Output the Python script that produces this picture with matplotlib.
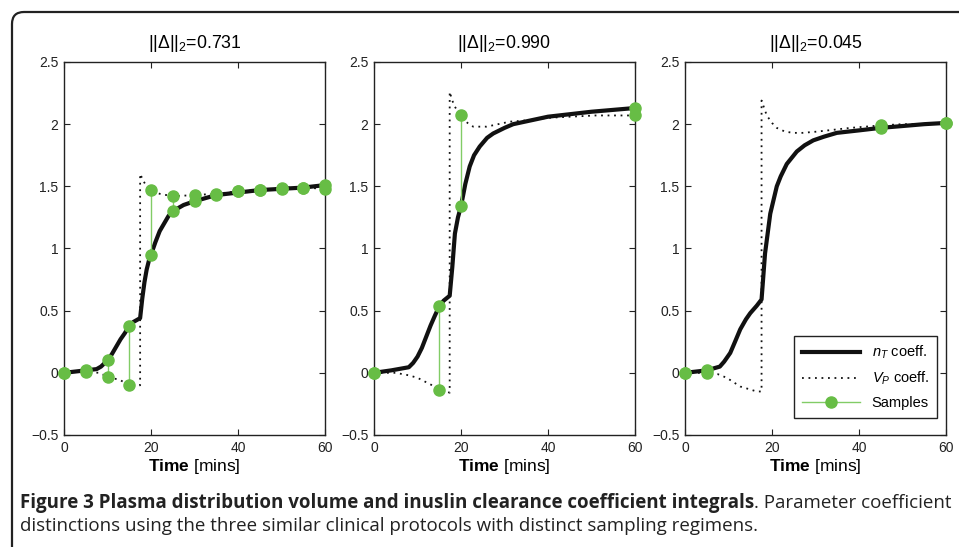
import matplotlib
matplotlib.use('Agg')
import matplotlib.pyplot as plt
from matplotlib.patches import FancyBboxPatch
from matplotlib.transforms import IdentityTransform

plt.rcParams['font.family'] = ['Liberation Sans', 'DejaVu Sans']
plt.rcParams['mathtext.fontset'] = 'custom'
plt.rcParams['mathtext.rm'] = 'Liberation Sans'
plt.rcParams['mathtext.it'] = 'Liberation Sans:italic'
plt.rcParams['mathtext.bf'] = 'Liberation Sans:bold'

# panel titles
titles = ['0.731', '0.990', '0.045']

# panel 1 (samples every 5 min)
t1 = [0, 2.5, 5, 7.5, 8.5, 10, 11, 12, 13, 14, 15, 16, 17.5, 18, 18.5, 19, 19.5, 20,
      21, 22, 23, 24, 25, 27.5, 30, 35, 40, 45, 50, 55, 60]
n1 = [0, 0.01, 0.02, 0.03, 0.05, 0.1, 0.15, 0.21, 0.27, 0.32, 0.38, 0.41, 0.44, 0.6,
      0.73, 0.83, 0.9, 0.95, 1.05, 1.14, 1.2, 1.26, 1.3, 1.35, 1.38, 1.43, 1.45, 1.47,
      1.48, 1.49, 1.51]
tv1 = [0, 5, 8, 10, 12, 13, 15, 17.5, 17.5, 18.3, 19, 20, 22, 25, 30, 35, 40, 45, 50, 55, 60]
v1 = [0, 0.01, 0.0, -0.03, -0.05, -0.06, -0.1, -0.1, 1.6, 1.54, 1.5, 1.47, 1.44, 1.42,
      1.43, 1.44, 1.46, 1.47, 1.49, 1.49, 1.48]
ts1 = [0, 5, 10, 15, 20, 25, 30, 35, 40, 45, 50, 55, 60]
sn1 = [0, 0.02, 0.1, 0.38, 0.95, 1.30, 1.38, 1.43, 1.46, 1.47, 1.48, 1.49, 1.51]
sv1 = [0, 0.01, -0.03, -0.1, 1.47, 1.42, 1.43, 1.44, 1.46, 1.47, 1.49, 1.49, 1.48]

# panel 2
t2 = [0, 4, 8, 9, 10, 11, 12, 13, 14, 15, 16, 17.4, 18, 18.6, 19.3, 20, 21, 22, 23,
      24.3, 26, 27.4, 30, 32, 36, 40, 45, 50, 55, 60]
n2 = [0, 0.02, 0.045, 0.08, 0.13, 0.2, 0.29, 0.38, 0.46, 0.535, 0.58, 0.62, 0.85, 1.12,
      1.25, 1.34, 1.52, 1.66, 1.75, 1.82, 1.89, 1.925, 1.97, 2.0, 2.03, 2.06, 2.08, 2.1,
      2.115, 2.13]
tv2 = [0, 5, 8, 10, 12.8, 15, 17.4, 17.4, 18, 18.6, 20, 21.5, 22.8, 25.9, 31.2, 35,
       39.7, 45, 51, 55, 60]
v2 = [0, 0.0, -0.02, -0.04, -0.09, -0.13, -0.16, 2.26, 2.19, 2.14, 2.06, 2.01, 1.98,
      1.98, 2.02, 2.03, 2.05, 2.06, 2.07, 2.07, 2.07]
ts2 = [0, 15, 20, 60]
sn2 = [0, 0.54, 1.34, 2.13]
sv2 = [0, -0.14, 2.07, 2.07]

# panel 3
t3 = [0, 5, 8, 9, 10.4, 11.5, 12.7, 14, 15, 16.5, 17.6, 18.4, 19.6, 21.1, 22, 23.4,
      25.7, 27.5, 29.5, 32, 34.9, 40, 44.9, 50, 55, 60]
n3 = [0, 0.02, 0.05, 0.09, 0.16, 0.25, 0.35, 0.43, 0.48, 0.54, 0.59, 0.96, 1.28, 1.5,
      1.58, 1.68, 1.78, 1.83, 1.87, 1.9, 1.93, 1.95, 1.97, 1.985, 2.0, 2.01]
tv3 = [0, 5, 7.5, 9.6, 12.7, 16.5, 17.6, 17.6, 18.8, 20, 21.1, 23, 24.9, 27, 30.3, 38,
       45, 50, 55, 60]
v3 = [0, 0.0, -0.01, -0.04, -0.11, -0.15, -0.15, 2.19, 2.07, 2.01, 1.97, 1.94, 1.93,
      1.93, 1.94, 1.97, 1.99, 2.0, 2.0, 2.01]
ts3 = [0, 5, 45, 60]
sn3 = [0, 0.02, 1.97, 2.01]
sv3 = [0, 0.0, 1.99, 2.01]

xticks = [0, 20, 40, 60]
yticks = [-0.5, 0, 0.5, 1, 1.5, 2, 2.5]
ytick_labels = ['\u22120.5', '0', '0.5', '1', '1.5', '2', '2.5']

panels = [(t1, n1, tv1, v1, ts1, sn1, sv1),
          (t2, n2, tv2, v2, ts2, sn2, sv2),
          (t3, n3, tv3, v3, ts3, sn3, sv3)]

green = '#67bd45'
green_line = '#82cc66'

fig = plt.figure(figsize=(9.59, 5.47), dpi=100)

# frame round the figure, rounded top-left corner
frame = FancyBboxPatch((12, -60), 1100, 547 - 12 + 60,
                       boxstyle='round,pad=0,rounding_size=12',
                       transform=IdentityTransform(), fill=False,
                       edgecolor='#222222', linewidth=1.6)
fig.add_artist(frame)

lefts = [64, 374, 685]
for i, (t, n, tv, v, ts, sn, sv) in enumerate(panels):
    ax = fig.add_axes([lefts[i] / 959, 112 / 547, 261 / 959, 373 / 547])
    ax.plot(t, n, color='#111111', linewidth=3, label='$n_T$ coeff.', zorder=3)
    ax.plot(tv, v, color='#111111', linewidth=1.3, linestyle=(0, (1, 2.6)),
            label='$V_P$ coeff.', zorder=2)
    for j in range(len(ts)):
        ax.plot([ts[j], ts[j]], [sn[j], sv[j]], color=green_line, linewidth=1,
                marker='o', markersize=8, markerfacecolor=green,
                markeredgecolor=green, zorder=4, clip_on=False,
                label='Samples' if j == 0 else None)
    ax.set_xlim(0, 60)
    ax.set_ylim(-0.5, 2.5)
    ax.set_xticks(xticks)
    ax.set_yticks(yticks)
    ax.set_yticklabels(ytick_labels)
    ax.tick_params(direction='in', top=True, right=True, length=4, width=0.8,
                   labelsize=10, colors='#222222', pad=4)
    for s in ax.spines.values():
        s.set_linewidth(1.0)
        s.set_color('#222222')
    ax.set_title('||\u0394||$_2$=' + titles[i], fontsize=12.8, pad=10)
    ax.set_xlabel(r'$\mathbf{Time}$ [mins]', fontsize=12.5, labelpad=2)
    if i == 2:
        leg = ax.legend(loc='lower right', bbox_to_anchor=(0.966, 0.045),
                        borderaxespad=0, fontsize=10.5, handlelength=4.0,
                        fancybox=False, edgecolor='#222222', framealpha=1,
                        labelspacing=0.6, borderpad=0.55)
        leg.get_frame().set_linewidth(1.0)

# caption
cap_font = ['Liberation Sans Narrow', 'Open Sans']
renderer = fig.canvas.get_renderer()
cap1 = fig.text(20 / 959, 1 - 503 / 547,
                'Figure 3 Plasma distribution volume and inuslin clearance coefficient integrals',
                fontsize=13.5, fontweight='bold', va='center', ha='left',
                color='#222222', family=cap_font)
bb = cap1.get_window_extent(renderer=renderer)
fig.text(bb.x1 / 959, 1 - 503 / 547, '. Parameter coefficient', fontsize=13.5,
         va='center', ha='left', color='#222222', family=cap_font)
fig.text(20 / 959, 1 - 526 / 547,
         'distinctions using the three similar clinical protocols with distinct sampling regimens.',
         fontsize=13.5, va='center', ha='left', color='#222222', family=cap_font)

fig.savefig('out.png', dpi=100)
